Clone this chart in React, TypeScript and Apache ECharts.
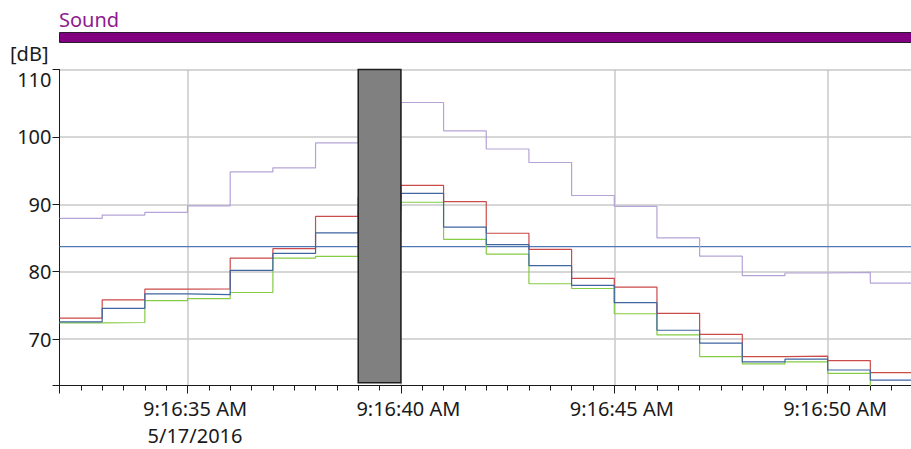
import { useEffect, useRef } from "react";
import * as echarts from "echarts";

// Sample start times, in seconds past 9:16 on 5/17/2016; each level holds for one second.
const seconds = [32, 33, 34, 35, 36, 37, 38, 39, 40, 41, 42, 43, 44, 45, 46, 47, 48, 49, 50, 51];
const endSecond = 52;

// Sound levels in dB for each one-second interval.
const peakLevel = [87.9, 88.4, 88.8, 89.75, 94.8, 95.4, 99.1, 102.5, 105.1, 100.9, 98.2, 96.2, 91.3, 89.7, 85.0, 82.3, 79.4, 79.8, 79.9, 78.3];
const redLevel = [73.1, 75.8, 77.4, 77.45, 82.0, 83.4, 88.2, 91.0, 92.8, 90.4, 85.7, 83.3, 79.0, 77.7, 73.8, 70.7, 67.4, 67.45, 66.8, 65.0];
const blueLevel = [72.55, 74.55, 76.7, 76.6, 80.2, 82.7, 85.75, 89.0, 91.6, 86.6, 84.0, 80.9, 77.95, 75.4, 71.3, 69.4, 66.6, 67.0, 65.4, 63.9];
const greenLevel = [72.4, 72.45, 75.7, 76.0, 76.9, 82.0, 82.25, 86.0, 90.3, 84.8, 82.6, 78.2, 77.5, 73.75, 70.6, 67.4, 66.3, 66.6, 64.9, 62.8];

// Constant reference level across the whole window.
const referenceLevel = 83.7;

// Cursor band (one-second selection).
const cursorFrom = 39;
const cursorTo = 40;
const cursorLow = 63.5;
const cursorHigh = 110;

// Axis extents and tick labels.
const yMin = 63.1;
const yMax = 110;
const yTicks = [70, 80, 90, 100, 110];
const xTickSeconds = [35, 40, 45, 50];
const xTickLabels = ["9:16:35 AM\n5/17/2016", "9:16:40 AM", "9:16:45 AM", "9:16:50 AM"];

const FONT = "Noto Sans";
const TEXT = "#1a1a1a";
const GRID_LINE = "#c8c8c8";

function stepData(values: number[]) {
  const pts = seconds.map((t, i) => [t, values[i]]);
  pts.push([endSecond, values[values.length - 1]]);
  return pts;
}

function levelSeries(name: string, values: number[], color: string) {
  return {
    name,
    type: "line",
    step: "end",
    symbol: "none",
    silent: true,
    xAxisIndex: 0,
    yAxisIndex: 0,
    lineStyle: { color, width: 1.2 },
    data: stepData(values),
    z: 3,
  };
}

export default function App() {
  const ref = useRef<HTMLDivElement>(null);

  useEffect(() => {
    if (!ref.current) return;
    const chart = echarts.init(ref.current, undefined, { renderer: "svg" });

    const option = {
      animation: false,
      backgroundColor: "#ffffff",
      title: {
        text: "Sound",
        left: 59,
        top: 7,
        padding: 0,
        textStyle: {
          fontFamily: FONT,
          fontSize: 20,
          lineHeight: 24,
          fontWeight: "normal",
          color: "#8e1a8e",
        },
      },
      graphic: [
        {
          type: "rect",
          shape: { x: 59.5, y: 32.5, width: 860, height: 10 },
          style: { fill: "#800080", stroke: "#2e1a2e", lineWidth: 1 },
          silent: true,
        },
      ],
      grid: {
        left: 59.5,
        top: 69.5,
        right: -2,
        bottom: 63.5,
        containLabel: false,
        outerBoundsMode: "none",
      },
      xAxis: [
        {
          // half-second ticks along the time axis
          type: "value",
          position: "bottom",
          min: seconds[0],
          max: endSecond,
          interval: 0.5,
          axisLine: { show: true, onZero: false, lineStyle: { color: TEXT, width: 1 } },
          axisTick: { show: true, length: 5, lineStyle: { color: TEXT, width: 1 } },
          axisLabel: { show: false },
          splitLine: { show: false },
        },
        {
          // five-second labels and grid lines
          type: "value",
          position: "bottom",
          min: seconds[0],
          max: endSecond,
          splitNumber: 4,
          axisLine: { show: false, onZero: false },
          axisTick: { show: true, length: 8, lineStyle: { color: TEXT, width: 1 } },
          axisLabel: {
            show: true,
            margin: 9,
            fontFamily: FONT,
            fontSize: 20,
            lineHeight: 27,
            color: TEXT,
            padding: [0, 0, 0, 15],
            formatter: (v: number) => {
              const i = xTickSeconds.indexOf(Math.round(v * 1000) / 1000);
              return i >= 0 ? xTickLabels[i] : "";
            },
          },
          splitLine: {
            show: true,
            lineStyle: {
              color: ["rgba(0,0,0,0)", GRID_LINE, GRID_LINE, GRID_LINE, GRID_LINE, GRID_LINE],
              width: 1.5,
            },
          },
        },
      ],
      yAxis: {
        type: "value",
        min: yMin,
        max: yMax,
        splitNumber: 5,
        name: "[dB]",
        nameLocation: "end",
        nameGap: 16,
        nameTextStyle: {
          fontFamily: FONT,
          fontSize: 20,
          lineHeight: 20,
          color: TEXT,
          align: "right",
          verticalAlign: "middle",
          padding: [0, 11, 0, 0],
        },
        axisLine: { show: true, onZero: false, lineStyle: { color: TEXT, width: 1 } },
        axisTick: { show: true, length: 7, lineStyle: { color: TEXT, width: 1 } },
        axisLabel: {
          margin: 8,
          fontFamily: FONT,
          fontSize: 20,
          color: TEXT,
          verticalAlignMaxLabel: "top",
          formatter: (v: number) => {
            const r = Math.round(v * 1000) / 1000;
            if (!yTicks.includes(r)) return "";
            return r === yMax ? `{top|${r}}` : String(r);
          },
          rich: {
            top: { fontFamily: FONT, fontSize: 20, color: TEXT, lineHeight: 19, verticalAlign: "top" },
          },
        },
        splitLine: {
          show: true,
          lineStyle: {
            color: ["rgba(0,0,0,0)", GRID_LINE, GRID_LINE, GRID_LINE, GRID_LINE, GRID_LINE],
            width: 1.5,
          },
        },
      },
      series: [
        {
          name: "Reference",
          type: "line",
          symbol: "none",
          silent: true,
          xAxisIndex: 0,
          yAxisIndex: 0,
          lineStyle: { color: "#4f78b5", width: 1.2 },
          data: [
            [seconds[0], referenceLevel],
            [endSecond, referenceLevel],
          ],
          z: 2,
        },
        levelSeries("Green", greenLevel, "#86cc44"),
        levelSeries("Red", redLevel, "#cc4a4a"),
        levelSeries("Blue", blueLevel, "#3f66a0"),
        levelSeries("Peak", peakLevel, "#b5a3d6"),
        {
          name: "Cursor",
          type: "custom",
          silent: true,
          xAxisIndex: 0,
          yAxisIndex: 0,
          z: 10,
          clip: false,
          encode: { x: [0, 1], y: [2, 3] },
          data: [[cursorFrom, cursorTo, cursorLow, cursorHigh]],
          renderItem: (_params: any, api: any) => {
            const p0 = api.coord([api.value(0), api.value(3)]);
            const p1 = api.coord([api.value(1), api.value(2)]);
            return {
              type: "rect",
              shape: { x: p0[0], y: p0[1], width: p1[0] - p0[0], height: p1[1] - p0[1] },
              style: { fill: "#808080", stroke: "#1e1e1e", lineWidth: 1.5 },
            };
          },
        },
      ],
    };

    chart.setOption(option as any);
    return () => chart.dispose();
  }, []);

  return (
    <div
      ref={ref}
      style={{ position: "fixed", left: 0, top: 0, width: 911, height: 449, background: "#fff" }}
    />
  );
}
